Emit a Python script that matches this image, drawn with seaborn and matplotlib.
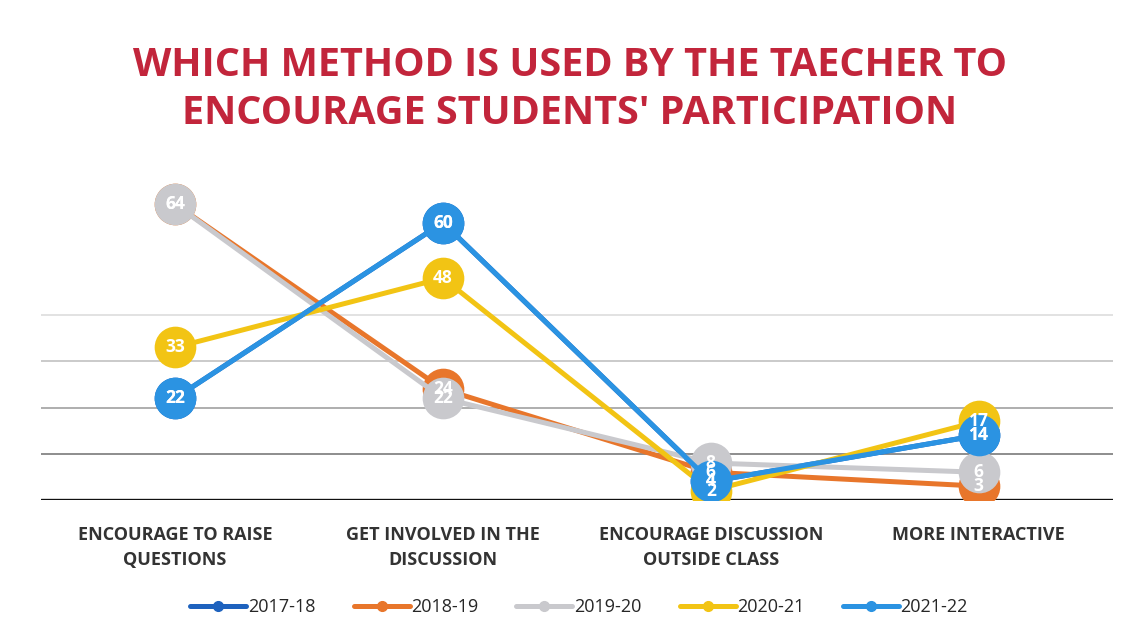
import numpy as np
import pandas as pd
import matplotlib
matplotlib.use("Agg")
import matplotlib.pyplot as plt
from matplotlib.lines import Line2D
import seaborn as sns

categories = ["ENCOURAGE TO RAISE\nQUESTIONS", "GET INVOLVED IN THE\nDISCUSSION",
              "ENCOURAGE DISCUSSION\nOUTSIDE CLASS", "MORE INTERACTIVE"]
years = ["2017-18", "2018-19", "2019-20", "2020-21", "2021-22"]
v2017 = [22, 60, 4, 14]
v2018 = [64, 24, 6, 3]
v2019 = [64, 22, 8, 6]
v2020 = [33, 48, 2, 17]
v2021 = [22, 60, 4, 14]
colors = ["#1E62BE", "#E8762B", "#C9C9CD", "#F2C414", "#2B93E2"]

series = [v2017, v2018, v2019, v2020, v2021]
rows = []
for y, vals in zip(years, series):
    for i, v in enumerate(vals):
        rows.append({"year": y, "idx": i, "value": v})
df = pd.DataFrame(rows)

sns.set_theme(style="white")
plt.rcParams['font.family'] = ['Open Sans', 'DejaVu Sans']

fig = plt.figure(figsize=(11.4, 6.41), dpi=100)
ax = fig.add_axes([0.036, 0.22, 0.94, 0.512])

grid_alpha = {10: 0.85, 20: 0.6, 30: 0.4, 40: 0.22}
for g in [10, 20, 30, 40]:
    ax.axhline(g, color="#6f6f6f", lw=1.3, alpha=grid_alpha[g], zorder=0)
ax.axhline(0, color="#111111", lw=2.4, zorder=0)

for k, y in enumerate(years):
    sns.lineplot(data=df[df["year"] == y], x="idx", y="value", color=colors[k],
                 marker="o", markersize=30, markeredgewidth=0, linewidth=3.6,
                 legend=False, ax=ax, sort=False, zorder=2 + k)

# data labels drawn above all markers, as in the reference
for k, (y, vals) in enumerate(zip(years, series)):
    for i, v in enumerate(vals):
        ax.text(i, v, str(v), ha="center", va="center", color="white",
                fontsize=12.5, fontweight="bold", zorder=20 + k)

ax.set_xlim(-0.5, 3.5)
ax.set_ylim(0, 71)
ax.set_yticks([])
ax.set_xticks(range(4))
ax.set_xticklabels(categories, fontsize=13, fontweight="bold", color="#333333",
                   linespacing=1.45)
ax.tick_params(axis="x", length=0, pad=19)
ax.set_xlabel("")
ax.set_ylabel("")
for s in ax.spines.values():
    s.set_visible(False)

fig.text(0.5, 0.861, "WHICH METHOD IS USED BY THE TAECHER TO\nENCOURAGE STUDENTS' PARTICIPATION",
         ha="center", va="center", fontsize=28.5, fontweight="bold", color="#C2253B",
         linespacing=1.3)

handles = [Line2D([0], [0], color=c, lw=3.6, marker="o", markersize=7) for c in colors]
fig.legend(handles, years, loc="center", bbox_to_anchor=(0.508, 0.053), ncol=5,
           frameon=False, fontsize=13, handlelength=3.1, columnspacing=2.1,
           handletextpad=0.1)

fig.savefig("out.png", dpi=100, facecolor="white")
